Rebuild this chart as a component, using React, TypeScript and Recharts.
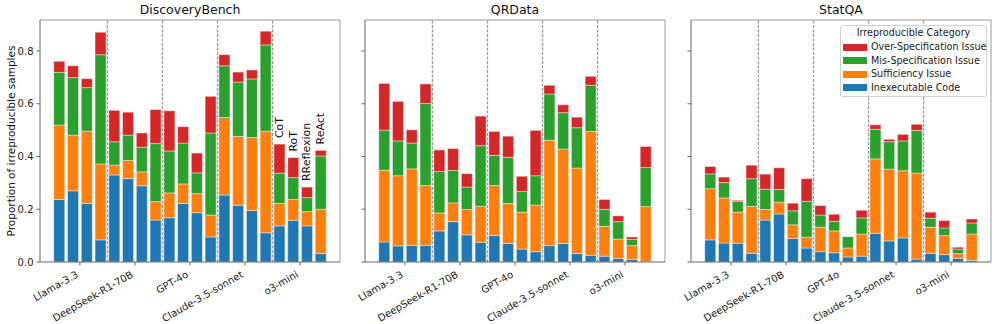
import React from 'react';
import { BarChart, Bar, XAxis, YAxis, ReferenceLine } from 'recharts';

const MODELS = ['Llama-3.3', 'DeepSeek-R1-70B', 'GPT-4o', 'Claude-3.5-sonnet', 'o3-mini'];
const METHODS = ['CoT', 'RoT', 'RReflexion', 'ReAct'];
const GROUP_TICKS = [1.5, 5.5, 9.5, 13.5, 17.5];
const SPLITS = [3.5, 7.5, 11.5, 15.5];
const Y_TICKS = [0, 0.2, 0.4, 0.6, 0.8];

// DiscoveryBench
const dbInexec = [0.237, 0.27, 0.222, 0.084, 0.33, 0.316, 0.289, 0.159, 0.168, 0.222, 0.187, 0.095, 0.254, 0.215, 0.195, 0.111, 0.137, 0.158, 0.137, 0.032];
const dbSuff = [0.282, 0.211, 0.274, 0.288, 0.037, 0.069, 0.053, 0.07, 0.094, 0.074, 0.072, 0.083, 0.294, 0.261, 0.277, 0.385, 0.085, 0.079, 0.054, 0.168];
const dbMis = [0.2, 0.218, 0.165, 0.414, 0.089, 0.096, 0.093, 0.22, 0.159, 0.155, 0.079, 0.311, 0.196, 0.206, 0.222, 0.327, 0.115, 0.083, 0.053, 0.202];
const dbOver = [0.042, 0.045, 0.034, 0.085, 0.119, 0.087, 0.054, 0.129, 0.152, 0.062, 0.075, 0.139, 0.042, 0.038, 0.034, 0.052, 0.11, 0.076, 0.04, 0.021];

// QRData
const qrInexec = [0.076, 0.061, 0.063, 0.063, 0.118, 0.153, 0.103, 0.075, 0.101, 0.07, 0.049, 0.039, 0.062, 0.07, 0.032, 0.025, 0.022, 0.013, 0.01, 0.001];
const qrSuff = [0.272, 0.266, 0.29, 0.227, 0.068, 0.071, 0.096, 0.136, 0.189, 0.152, 0.14, 0.177, 0.4, 0.358, 0.324, 0.47, 0.113, 0.074, 0.052, 0.209];
const qrMis = [0.152, 0.132, 0.098, 0.311, 0.157, 0.123, 0.085, 0.23, 0.114, 0.175, 0.078, 0.111, 0.175, 0.138, 0.153, 0.175, 0.065, 0.066, 0.024, 0.148];
const qrOver = [0.177, 0.15, 0.05, 0.074, 0.082, 0.083, 0.051, 0.112, 0.091, 0.08, 0.058, 0.172, 0.033, 0.03, 0.04, 0.034, 0.037, 0.022, 0.009, 0.08];

// StatQA
const sqInexec = [0.084, 0.072, 0.071, 0.033, 0.159, 0.182, 0.089, 0.053, 0.039, 0.035, 0.019, 0.022, 0.109, 0.08, 0.091, 0.011, 0.033, 0.028, 0.014, 0.006];
const sqSuff = [0.194, 0.171, 0.118, 0.178, 0.04, 0.045, 0.052, 0.041, 0.093, 0.083, 0.034, 0.084, 0.282, 0.272, 0.255, 0.326, 0.099, 0.072, 0.018, 0.1];
const sqMis = [0.056, 0.058, 0.041, 0.105, 0.077, 0.048, 0.053, 0.136, 0.046, 0.036, 0.043, 0.061, 0.112, 0.104, 0.113, 0.162, 0.034, 0.029, 0.017, 0.042];
const sqOver = [0.028, 0.021, 0.004, 0.051, 0.057, 0.082, 0.029, 0.086, 0.036, 0.027, 0, 0.029, 0.017, 0.009, 0.025, 0.023, 0.023, 0.028, 0.007, 0.015];

const COLORS = { inexec: '#1f77b4', suff: '#ff7f0e', mis: '#2ca02c', over: '#d62728' };
const LEGEND_ITEMS = [
  { name: 'Over-Specification Issue', color: COLORS.over },
  { name: 'Mis-Specification Issue', color: COLORS.mis },
  { name: 'Sufficiency Issue', color: COLORS.suff },
  { name: 'Inexecutable Code', color: COLORS.inexec },
];

const X_MIN = -1.4;
const X_MAX = 20.4;
const Y_MAX = 0.9175;
const PLOT_W = 300;
const CAT_PAD = (0.9 / (X_MAX - X_MIN)) * PLOT_W;
const AXIS = '#666';
const FRAME = '#999';
const FONT = '"DejaVu Sans", sans-serif';

function buildRows(inexec: number[], suff: number[], mis: number[], over: number[]) {
  return inexec.map((v, i) => ({
    key: `${MODELS[Math.floor(i / 4)]} ${METHODS[i % 4]}`,
    pos: i,
    method: METHODS[i % 4],
    inexec: v,
    suff: suff[i],
    mis: mis[i],
    over: over[i],
  }));
}

const GroupTick = (props: any) => {
  const { x, y, payload } = props;
  const name = MODELS[Math.round((payload.value - 1.5) / 4)];
  return (
    <g transform={`translate(${x - 1},${y + 9})`}>
      <text textAnchor="end" transform="rotate(-30)" fontSize={10} fill="#222" fontFamily={FONT}>
        {name}
      </text>
    </g>
  );
};

const methodLabel = (props: any) => {
  const { index } = props;
  if (index < 16) return null;
  const vb = props.viewBox || {};
  const x = props.x ?? vb.x;
  const y = props.y ?? vb.y;
  const w = props.width ?? vb.width;
  const cx = x + w / 2;
  const ty = y - 6;
  return (
    <text
      x={cx}
      y={ty}
      transform={`rotate(-90, ${cx}, ${ty})`}
      textAnchor="start"
      dominantBaseline="central"
      fontSize={11}
      fill="#111"
      fontFamily={FONT}
    >
      {METHODS[index % 4]}
    </text>
  );
};

function Panel({ title, rows, left, first }: { title: string; rows: any[]; left: number; first?: boolean }) {
  const chartLeft = left - 40;
  return (
    <div style={{ position: 'absolute', left: chartLeft, top: 0 }}>
      <div
        style={{
          position: 'absolute',
          left: 40,
          width: PLOT_W,
          top: 2,
          textAlign: 'center',
          fontSize: 12.5,
          fontFamily: FONT,
          color: '#111',
        }}
      >
        {title}
      </div>
      <BarChart
        width={40 + PLOT_W + 2}
        height={324}
        data={rows}
        margin={{ top: 20, right: 2, bottom: 0, left: 0 }}
        barCategoryGap="10%"
      >
        <XAxis xAxisId="cat" dataKey="key" hide height={0} padding={{ left: CAT_PAD, right: CAT_PAD }} />
        <XAxis
          xAxisId="num"
          dataKey="pos"
          type="number"
          domain={[X_MIN, X_MAX]}
          allowDataOverflow
          ticks={GROUP_TICKS}
          interval={0}
          tick={<GroupTick />}
          tickSize={3.5}
          tickLine={{ stroke: AXIS }}
          axisLine={{ stroke: AXIS }}
          height={62}
        />
        <YAxis
          domain={[0, Y_MAX]}
          allowDataOverflow
          ticks={Y_TICKS}
          width={40}
          tickSize={3.5}
          tickMargin={3}
          tickLine={{ stroke: AXIS }}
          axisLine={{ stroke: AXIS }}
          tick={{ fontSize: 10, fill: '#222', fontFamily: FONT }}
          tickFormatter={(v: number) => (first ? v.toFixed(1) : '')}
          label={
            first
              ? {
                  value: 'Proportion of irreproducible samples',
                  angle: -90,
                  position: 'insideLeft',
                  offset: 11,
                  style: { textAnchor: 'middle', fontSize: 10.5, fill: '#111', fontFamily: FONT },
                }
              : undefined
          }
        />
        <Bar xAxisId="cat" dataKey="inexec" stackId="s" fill={COLORS.inexec} stroke="#fff" strokeWidth={0.4} isAnimationActive={false} />
        <Bar xAxisId="cat" dataKey="suff" stackId="s" fill={COLORS.suff} stroke="#fff" strokeWidth={0.4} isAnimationActive={false} />
        <Bar xAxisId="cat" dataKey="mis" stackId="s" fill={COLORS.mis} stroke="#fff" strokeWidth={0.4} isAnimationActive={false} />
        <Bar
          xAxisId="cat"
          dataKey="over"
          stackId="s"
          fill={COLORS.over}
          stroke="#fff"
          strokeWidth={0.4}
          isAnimationActive={false}
          label={first ? methodLabel : undefined}
        />
        {SPLITS.map((s) => (
          <ReferenceLine key={s} xAxisId="num" x={s} stroke="#999" strokeWidth={1.3} strokeDasharray="3 1.5" />
        ))}
        <ReferenceLine xAxisId="num" y={Y_MAX} stroke={FRAME} ifOverflow="visible" />
        <ReferenceLine xAxisId="num" x={X_MAX} stroke={FRAME} ifOverflow="visible" />
      </BarChart>
    </div>
  );
}

function CategoryLegend() {
  return (
    <div
      style={{
        position: 'absolute',
        left: 840,
        top: 25,
        width: 147,
        height: 72,
        border: '1px solid #d0d0d0',
        borderRadius: 3,
        background: 'rgba(255,255,255,0.85)',
        fontFamily: FONT,
        fontSize: 9.6,
        color: '#222',
        boxSizing: 'border-box',
      }}
    >
      <div style={{ position: 'absolute', left: 0, width: '100%', top: 1, textAlign: 'center', lineHeight: '12px' }}>
        Irreproducible Category
      </div>
      {LEGEND_ITEMS.map((it, i) => (
        <div key={it.name} style={{ position: 'absolute', left: 2, top: 15 + i * 13.5, height: 12, display: 'flex', alignItems: 'center' }}>
          <span style={{ display: 'inline-block', width: 24, height: 7, background: it.color, marginRight: 4 }} />
          <span style={{ lineHeight: '12px', whiteSpace: 'nowrap' }}>{it.name}</span>
        </div>
      ))}
    </div>
  );
}

export default function App() {
  return (
    <div style={{ position: 'absolute', left: 0, top: 0, width: 997, height: 324, background: '#fff', overflow: 'hidden' }}>
      <Panel title="DiscoveryBench" rows={buildRows(dbInexec, dbSuff, dbMis, dbOver)} left={40} first />
      <Panel title="QRData" rows={buildRows(qrInexec, qrSuff, qrMis, qrOver)} left={365} />
      <Panel title="StatQA" rows={buildRows(sqInexec, sqSuff, sqMis, sqOver)} left={691} />
      <CategoryLegend />
    </div>
  );
}
